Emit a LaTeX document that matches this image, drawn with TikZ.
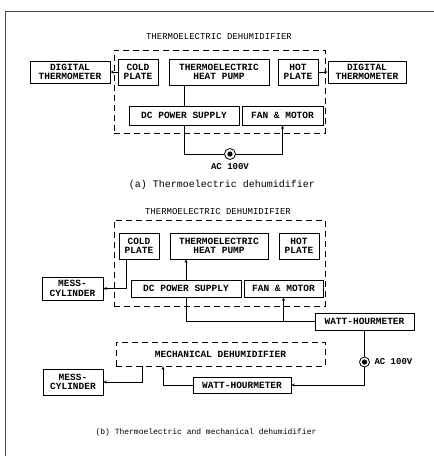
\documentclass[tikz,border=0pt]{standalone}
\usepackage{fontspec}
\setmonofont{Liberation Mono}
\usetikzlibrary{arrows.meta,calc}
\tikzset{
  box/.style={draw, line width=0.7pt, rectangle, inner sep=1pt, align=center,
    font=\ttfamily\bfseries\fontsize{9.5}{9.5}\selectfont},
  dbox/.style={draw, line width=0.7pt, dash pattern=on 6pt off 4pt, rectangle, inner sep=0pt},
  conn/.style={line width=0.7pt},
  arr/.style={line width=0.7pt, -{Stealth[length=3.5pt,width=3pt]}},
  ttl/.style={font=\ttfamily\fontsize{9}{9}\selectfont},
  captext/.style={font=\ttfamily},
  src/.style={draw, circle, line width=0.8pt, minimum size=11pt, inner sep=0pt,
    path picture={\fill (path picture bounding box.center) circle (2.6pt);}},
}
\begin{document}
\begin{tikzpicture}[x=1pt,y=-1pt]
\useasboundingbox (0,0) rectangle (434,456);
% frame
\draw[line width=0.6pt, black!70] (5,456) -- (5,11) -- (434,11);

% ---------- (a) ----------
\node[ttl] (ta) at (219,37) {THERMOELECTRIC DEHUMIDIFIER};
\node[dbox, minimum width=211pt, minimum height=83pt] (tea) at (219.5,91.5) {};
\node[box, minimum width=80pt, minimum height=22pt] (dt1) at (70,72) {DIGITAL\\THERMOMETER};
\node[box, minimum width=40pt, minimum height=26pt] (cp1) at (138,72) {COLD\\PLATE};
\node[box, minimum width=100pt, minimum height=26pt] (hp1) at (219,72) {THERMOELECTRIC\\HEAT PUMP};
\node[box, minimum width=40pt, minimum height=26pt] (hot1) at (298,72) {HOT\\PLATE};
\node[box, minimum width=78pt, minimum height=22pt] (dt2) at (367,72) {DIGITAL\\THERMOMETER};
\node[box, minimum width=110pt, minimum height=19pt] (dc1) at (184,115.5) {DC POWER SUPPLY};
\node[box, minimum width=81pt, minimum height=19pt] (fm1) at (282.5,115.5) {FAN \& MOTOR};
\node[src] (s1) at (230,154) {};
\node[ttl, font=\ttfamily\bfseries\fontsize{9}{9}\selectfont] (ac1) at (230,167) {AC 100V};
\node[captext, font=\ttfamily\fontsize{10}{10}\selectfont] (capa) at (222,185) {(a) Thermoelectric dehumidifier};

\draw[arr] (cp1.west) -- (dt1.east);
\draw[arr] (hot1.east) -- (dt2.west);
\draw[conn] (hp1.south -| dc1.north) -- (dc1.north);
\draw[conn] (dc1.south) |- (s1.west);
\draw[arr] (s1.east) -| (fm1.south);

% ---------- (b) ----------
\node[ttl] (tb) at (218,212) {THERMOELECTRIC DEHUMIDIFIER};
\node[dbox, minimum width=211pt, minimum height=86pt] (teb) at (219.5,263) {};
\node[box, minimum width=40pt, minimum height=26pt] (cp2) at (139,246) {COLD\\PLATE};
\node[box, minimum width=98pt, minimum height=26pt] (hp2) at (219,246) {THERMOELECTRIC\\HEAT PUMP};
\node[box, minimum width=40pt, minimum height=26pt] (hot2) at (299,246) {HOT\\PLATE};
\node[box, minimum width=61pt, minimum height=23pt] (mc1) at (72.5,288.5) {MESS-\\CYLINDER};
\node[box, minimum width=110pt, minimum height=17pt] (dc2) at (186,288.5) {DC POWER SUPPLY};
\node[box, minimum width=79pt, minimum height=17pt] (fm2) at (283.5,288.5) {FAN \& MOTOR};
\node[box, minimum width=99pt, minimum height=17pt] (wh1) at (364.5,321.5) {WATT-HOURMETER};
\node[src, minimum size=10pt] (s2) at (364.5,362) {};
\node[ttl, font=\ttfamily\bfseries\fontsize{9}{9}\selectfont, anchor=west] (ac2) at (371,362) {AC 100V};
\node[dbox, minimum width=209pt, minimum height=24pt, font=\ttfamily\bfseries\fontsize{9.5}{9.5}\selectfont] (mech) at (220.5,354) {MECHANICAL DEHUMIDIFIER};
\node[box, minimum width=98pt, minimum height=16pt] (wh2) at (242,385) {WATT-HOURMETER};
\node[box, minimum width=60pt, minimum height=26pt] (mc2) at (73,382) {MESS-\\CYLINDER};
\node[captext, font=\ttfamily\fontsize{8}{8}\selectfont] (capb) at (206,432) {(b) Thermoelectric and mechanical dehumidifier};

\draw[arr] ([xshift=-13pt]cp2.south) |- (mc1.east);
\draw[arr] (dc2.north) -- (dc2.north |- hp2.south);
\draw[conn] (wh1.west) -| (dc2.south);
\draw[arr] (fm2.south |- wh1.west) -- (fm2.south);
\draw[conn] (wh1.south) -- (s2.north);
\draw[arr] (s2.south) |- (wh2.east);
\draw[arr] (wh2.west) -| ([xshift=-57.5pt]mech.south);
\draw[arr] ([xshift=-78.5pt]mech.south) |- (mc2.east);
\end{tikzpicture}
\end{document}
